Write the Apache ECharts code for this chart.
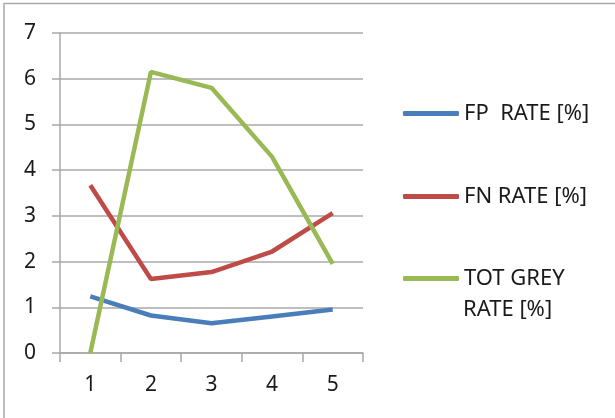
<!DOCTYPE html>
<html>
<head>
<meta charset="utf-8">
<script src="https://cdn.jsdelivr.net/npm/echarts@6/dist/echarts.min.js"></script>
<style>
  html, body { margin: 0; padding: 0; background: #fff; }
  #chart { width: 615px; height: 418px; }
</style>
</head>
<body>
<div id="chart"></div>
<script>
var categories = ["1", "2", "3", "4", "5"];
var fpRate = [1.24, 0.82, 0.65, 0.8, 0.95];
var fnRate = [3.67, 1.62, 1.77, 2.22, 3.06];
var totGreyRate = [0, 6.15, 5.8, 4.29, 1.95];

var gridColor = "#a8a8a8";
var textColor = "#1a1a1a";
var fontFamily = "Noto Sans";

var chart = echarts.init(document.getElementById("chart"));

function lineSeries(name, data, color) {
  return {
    name: name,
    type: "line",
    data: data,
    symbol: "none",
    lineStyle: { color: color, width: 4.5 },
    itemStyle: { color: color },
    animation: false
  };
}

var legendText = { fontFamily: fontFamily, fontSize: 22, color: textColor, lineHeight: 33 };

var option = {
  backgroundColor: "#fff",
  animation: false,
  grid: { left: 60, right: 252, top: 33, bottom: 65 },
  graphic: [
    {
      type: "rect",
      shape: { x: 4, y: 3.5, width: 700, height: 500 },
      style: { fill: "none", stroke: gridColor, lineWidth: 1.5 },
      silent: true
    },
    {
      // second line of the wrapped "TOT GREY RATE [%]" legend label
      type: "text",
      left: 463,
      top: 299,
      style: { text: "RATE [%]", font: "22px Noto Sans", fill: textColor },
      silent: true
    }
  ],
  legend: [
    {
      orient: "vertical",
      left: 398,
      top: 92,
      itemGap: 50,
      itemWidth: 56,
      itemHeight: 5,
      icon: "roundRect",
      textStyle: legendText,
      data: ["FP  RATE [%]", "FN RATE [%]"]
    },
    {
      orient: "vertical",
      left: 398,
      top: 257,
      itemWidth: 56,
      itemHeight: 5,
      icon: "roundRect",
      formatter: function () { return "TOT GREY"; },
      textStyle: legendText,
      data: ["TOT GREY RATE [%]"]
    }
  ],
  xAxis: {
    type: "category",
    data: categories,
    boundaryGap: true,
    axisLine: { lineStyle: { color: gridColor, width: 1.5 } },
    axisTick: { show: true, length: 9, lineStyle: { color: gridColor, width: 1.5 } },
    axisLabel: { fontFamily: fontFamily, fontSize: 21, color: textColor, margin: 22 },
    splitLine: { show: false }
  },
  yAxis: {
    type: "value",
    min: 0,
    max: 7,
    interval: 1,
    axisLine: { show: true, lineStyle: { color: gridColor, width: 1.5 } },
    axisTick: { show: true, length: 8, lineStyle: { color: gridColor, width: 1.5 } },
    axisLabel: { fontFamily: fontFamily, fontSize: 21, color: textColor, margin: 24 },
    splitLine: { show: true, lineStyle: { color: gridColor, width: 1.5 } }
  },
  series: [
    lineSeries("FP  RATE [%]", fpRate, "#4a7ebb"),
    lineSeries("FN RATE [%]", fnRate, "#be4b48"),
    lineSeries("TOT GREY RATE [%]", totGreyRate, "#98b954")
  ]
};

chart.setOption(option);
</script>
</body>
</html>
